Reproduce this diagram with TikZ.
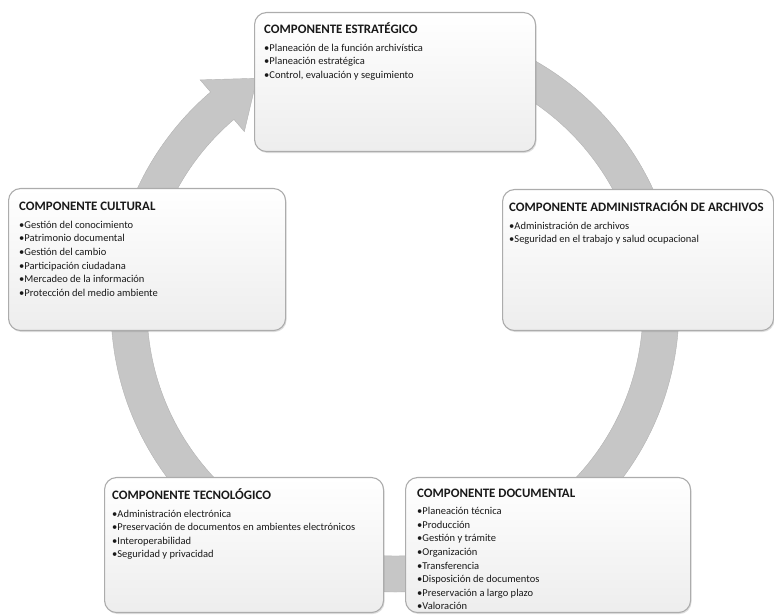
\documentclass[tikz,border=0pt]{standalone}
\usepackage{fontspec}
\setmainfont{Carlito}
\usetikzlibrary{shadows}
\newcommand{\titulo}[1]{{\fontsize{12.9}{13.6}\selectfont\bfseries\rule{0pt}{10pt}#1}}

\begin{document}
\begin{tikzpicture}[x=1pt, y=1pt,
  cajabox/.style={rectangle, rounded corners=12pt, draw=gray!65, line width=1.1pt,
    top color=white, bottom color=gray!14, anchor=north west, inner sep=0pt,
    drop shadow={opacity=0.25, shadow xshift=1pt, shadow yshift=-1.5pt}},
  textobox/.style={anchor=north west, align=left, inner sep=0pt, text=black!90,
    font=\fontsize{10.5}{13.6}\selectfont}]
\useasboundingbox (0,0) rectangle (774,615);
% circular arrow behind the boxes
\coordinate (O) at (395,307);
\begin{scope}[shift={(O)}]
\filldraw [fill=gray!45, draw=gray!60] (85:284pt) arc[start angle=85, end angle=-229.5, radius=284pt]
  -- (130.5:300pt) -- (121:268pt) -- (130.5:232pt) -- (130.5:248pt)
  arc[start angle=-229.5, end angle=85, radius=248pt] -- cycle;
\end{scope}
% boxes
\node [cajabox, minimum width=281, minimum height=139] (E) at (254,603) {};
\node [cajabox, minimum width=277, minimum height=142] (C) at (8,427) {};
\node [cajabox, minimum width=271, minimum height=141] (A) at (502,426) {};
\node [cajabox, minimum width=279, minimum height=135] (T) at (104,138) {};
\node [cajabox, minimum width=285, minimum height=135] (D) at (405,138) {};
% texts (top of each node = title baseline + 10pt)
\node [textobox] (Et) at (264,592.5) {\titulo{COMPONENTE ESTRATÉGICO}\\[4pt]
  \textbullet Planeación de la función archivística\\
  \textbullet Planeación estratégica\\
  \textbullet Control, evaluación y seguimiento};
\node [textobox] (Ct) at (19,414.5) {\titulo{COMPONENTE CULTURAL}\\[4pt]
  \textbullet Gestión del conocimiento\\
  \textbullet Patrimonio documental\\
  \textbullet Gestión del cambio\\
  \textbullet Participación ciudadana\\
  \textbullet Mercadeo de la información\\
  \textbullet Protección del medio ambiente};
\node [textobox] (At) at (509,414.5) {\titulo{COMPONENTE ADMINISTRACIÓN DE ARCHIVOS}\\[4pt]
  \textbullet Administración de archivos\\
  \textbullet Seguridad en el trabajo y salud ocupacional};
\node [textobox] (Tt) at (112,126.5) {\titulo{COMPONENTE TECNOLÓGICO}\\[4pt]
  \textbullet Administración electrónica\\
  \textbullet Preservación de documentos en ambientes electrónicos\\
  \textbullet Interoperabilidad\\
  \textbullet Seguridad y privacidad};
\node [textobox] (Dt) at (417,128) {\titulo{COMPONENTE DOCUMENTAL}\\[4pt]
  \textbullet Planeación técnica\\
  \textbullet Producción\\
  \textbullet Gestión y trámite\\
  \textbullet Organización\\
  \textbullet Transferencia\\
  \textbullet Disposición de documentos\\
  \textbullet Preservación a largo plazo\\
  \textbullet Valoración};
\end{tikzpicture}
\end{document}
